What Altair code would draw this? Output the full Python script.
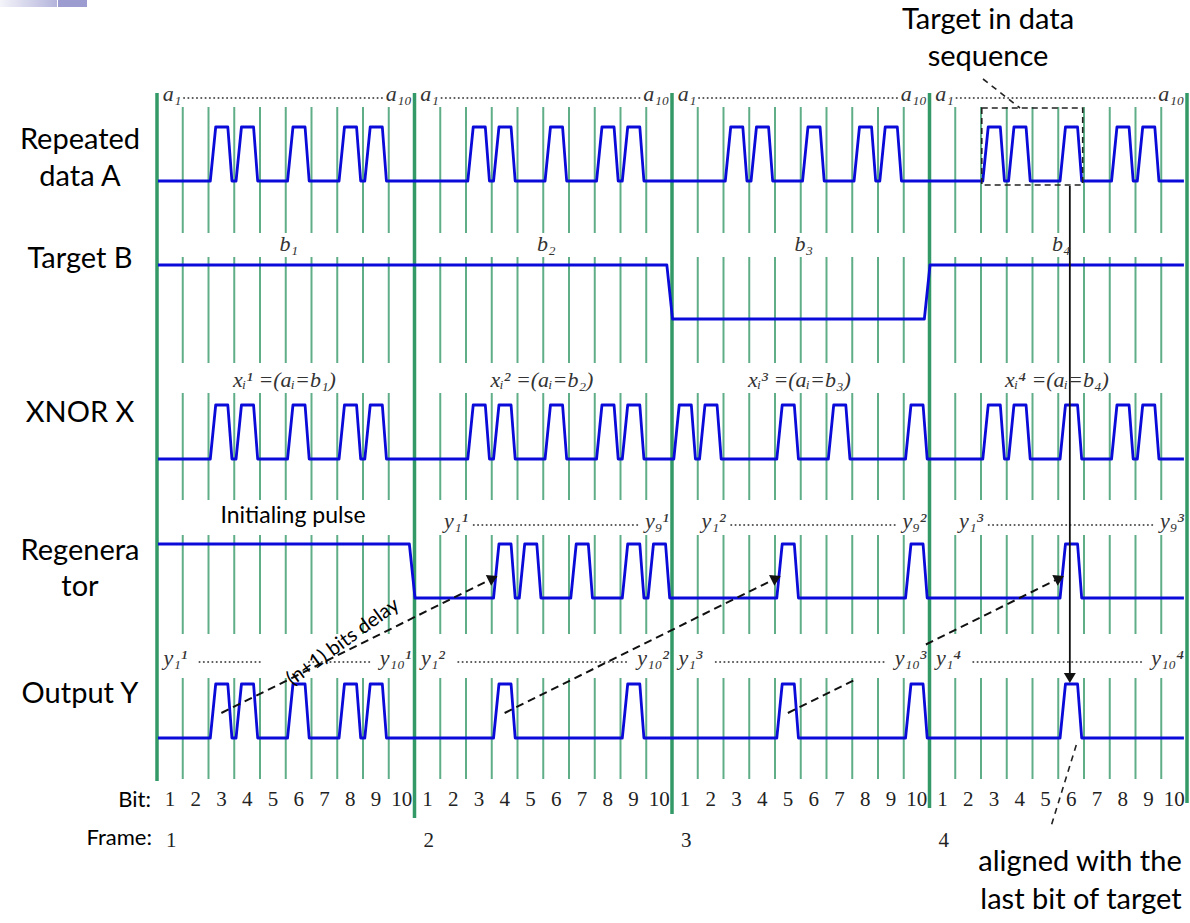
import math
import altair as alt
import pandas as pd

# ----------------------------- data -----------------------------
FRAMES = [1, 2, 3, 4]
BIT_LABELS = [1, 2, 3, 4, 5, 6, 7, 8, 9, 10]

DATA_A = [0, 0, 1, 1, 0, 1, 0, 1, 1, 0,
          0, 0, 1, 1, 0, 1, 0, 1, 1, 0,
          0, 0, 1, 1, 0, 1, 0, 1, 1, 0,
          0, 0, 1, 1, 0, 1, 0, 1, 1, 0]
TARGET_B = [1, 1, 0, 1]                      # one level per frame
XNOR_X = [0, 0, 1, 1, 0, 1, 0, 1, 1, 0,
          0, 0, 1, 1, 0, 1, 0, 1, 1, 0,
          1, 1, 0, 0, 1, 0, 1, 0, 0, 1,
          0, 0, 1, 1, 0, 1, 0, 1, 1, 0]
REGEN_INIT = [1, 0, 0, 0]                    # initialising pulse, per frame
REGEN = [0, 0, 0, 0, 0, 0, 0, 0, 0, 0,
         0, 0, 0, 1, 1, 0, 1, 0, 1, 1,
         0, 0, 0, 0, 1, 0, 0, 0, 0, 1,
         0, 0, 0, 0, 0, 1, 0, 0, 0, 0]
OUTPUT_Y = [0, 0, 1, 1, 0, 1, 0, 1, 1, 0,
            0, 0, 0, 1, 0, 0, 0, 0, 1, 0,
            0, 0, 0, 0, 1, 0, 0, 0, 0, 1,
            0, 0, 0, 0, 0, 1, 0, 0, 0, 0]

ROW_NAMES = [["Repeated", "data A"], ["Target B"], ["XNOR X"], ["Regenera", "tor"], ["Output Y"]]
A_LABELS = [("a₁", "a₁₀"), ("a₁", "a₁₀"), ("a₁", "a₁₀"), ("a₁", "a₁₀")]
B_LABELS = ["b₁", "b₂", "b₃", "b₄"]
X_LABELS = ["xᵢ¹ =(aᵢ=b₁)", "xᵢ² =(aᵢ=b₂)", "xᵢ³ =(aᵢ=b₃)", "xᵢ⁴ =(aᵢ=b₄)"]
R_LABELS = [None, ("y₁¹", "y₉¹"), ("y₁²", "y₉²"), ("y₁³", "y₉³")]
Y_LABELS = [("y₁¹", "y₁₀¹"), ("y₁²", "y₁₀²"), ("y₁³", "y₁₀³"), ("y₁⁴", "y₁₀⁴")]
DELAY_SOURCES = [2, 13, 24]      # output bits fed back (0-based, global)
DELAY = 11                       # (n+1) bits
TARGET_SPAN = [32, 36]           # frame 4, bits 3..6
ALIGNED_BIT = 35                 # frame 4, bit 6

# ----------------------------- layout -----------------------------
W, H = 1190, 923
X0, BW = 157.0, 25.75


def bx(px):
    return (px - X0) / BW


LOW = [181, 319, 459, 598, 738]
AMP = 54
EDGE = [0.07, 0.28, 0.75, 0.91]
SERIF = "Liberation Serif, DejaVu Serif, serif"
SANS = "Lato"
BLUE = "#0b0bd9"

xs = alt.Scale(domain=[bx(0), bx(W)], nice=False, zero=False)
ys = alt.Scale(domain=[0, H], reverse=True, nice=False, zero=False)
X = alt.X("x:Q", scale=xs, axis=None)
Y = alt.Y("y:Q", scale=ys, axis=None)


def wave(row, nrz, rz):
    lo = LOW[row]
    pts = [(0.04, nrz[0])]
    for f in range(1, len(nrz)):
        if nrz[f] != nrz[f - 1]:
            pts += [(10 * f - 0.2, nrz[f - 1]), (10 * f + 0.02, nrz[f])]
    pts.append((39.88, nrz[-1]))
    for k, b in enumerate(rz):
        if b:
            pts += [(k + EDGE[0], 0), (k + EDGE[1], 1), (k + EDGE[2], 1), (k + EDGE[3], 0)]
    pts.sort()
    return [dict(row=row, i=i, x=x, y=lo - AMP * v) for i, (x, v) in enumerate(pts)]


waves = []
for row, nrz, rz in [(0, [0] * 4, DATA_A), (1, TARGET_B, [0] * 40), (2, [0] * 4, XNOR_X),
                     (3, REGEN_INIT, REGEN), (4, [0] * 4, OUTPUT_Y)]:
    waves += wave(row, nrz, rz)
waves = pd.DataFrame(waves)

thin_rows = [(107, 233), (257, 363), (393, 500), (535, 634), (678, 779)]
thin = pd.DataFrame([dict(x=k, y=a, y2=b) for (a, b) in thin_rows for k in range(1, 40) if k % 10])
thick_bottom = [781, 818, 814, 808, 803]
thick = pd.DataFrame([dict(x=10 * f, y=93, y2=thick_bottom[f]) for f in range(5)])

# label texts
left_t, right_t, center_t, dots = [], [], [], []
for f in range(4):
    fs = 10 * f
    l, r = A_LABELS[f]
    left_t.append(dict(x=fs + 0.22, y=94, text=l))
    right_t.append(dict(x=fs + 9.9, y=94, text=r))
    dots.append(dict(x=fs + 1.05, x2=fs + 8.8, y=98))
    center_t.append(dict(x=fs + 5.12, y=244, text=B_LABELS[f]))
    center_t.append(dict(x=fs + 4.95, y=380, text=X_LABELS[f]))
    if R_LABELS[f]:
        l, r = R_LABELS[f]
        left_t.append(dict(x=fs + 1.15, y=521, text=l))
        right_t.append(dict(x=fs + 9.88, y=521, text=r))
        dots.append(dict(x=fs + 2.3, x2=fs + 8.65, y=525))
    l, r = Y_LABELS[f]
    left_t.append(dict(x=fs + 0.25, y=658, text=l))
    right_t.append(dict(x=fs + 9.88, y=658, text=r))
    if f == 0:
        dots.append(dict(x=fs + 1.65, x2=fs + 4.1, y=662))
        dots.append(dict(x=fs + 5.9, x2=fs + 8.25, y=662))
    else:
        dots.append(dict(x=fs + 1.7, x2=fs + 8.25, y=662))

bits_t = [dict(x=10 * f + k + 0.5, y=800, text=str(BIT_LABELS[k])) for f in range(4) for k in range(10)]
frames_t = [dict(x=10 * f + 0.55, y=841, text=str(FRAMES[f])) for f in range(4)]

row_t = []
row_ys = [[140, 177], [259], [413], [551, 587], [694]]
for names, yy in zip(ROW_NAMES, row_ys):
    for n, yv in zip(names, yy):
        row_t.append(dict(x=bx(80), y=yv, text=n))
note_t = [dict(x=bx(988), y=20, text="Target in data"), dict(x=bx(988), y=57, text="sequence"),
          dict(x=bx(1080), y=862, text="aligned with the"), dict(x=bx(1081), y=900, text="last bit of target")]

# arrows
arrows, heads = [], []
for s in DELAY_SOURCES:
    x1, y1, x2, y2 = s + 0.5, 713, s + DELAY + 0.22, 576
    if s == 24:
        for a, b in [(0.0, 0.24), (0.5, 1.0)]:
            arrows.append(dict(x=x1 + a * (x2 - x1), y=y1 + a * (y2 - y1),
                               x2=x1 + b * (x2 - x1), y2=y1 + b * (y2 - y1)))
    else:
        arrows.append(dict(x=x1, y=y1, x2=x2, y2=y2))
    ang = math.degrees(math.atan2((x2 - x1) * BW, -(y2 - y1))) % 360
    heads.append(dict(x=x2, y=y2, ang=ang))
heads.append(dict(x=ALIGNED_BIT + 0.45, y=683, ang=180))
arrows = pd.DataFrame(arrows)
heads = pd.DataFrame(heads)

leaders = pd.DataFrame([dict(x=bx(983), y=79, x2=bx(1020), y2=108),
                        dict(x=ALIGNED_BIT + 0.7, y=745, x2=ALIGNED_BIT - 0.3, y2=828)])
solid = pd.DataFrame([dict(x=ALIGNED_BIT + 0.45, y=186, x2=ALIGNED_BIT + 0.45, y2=680)])
box = pd.DataFrame([dict(x=TARGET_SPAN[0] + 0.03, x2=TARGET_SPAN[1] - 0.05, y=108, y2=185)])
bar1 = pd.DataFrame([dict(x=bx(0), x2=bx(57), y=0, y2=7)])
bar2 = pd.DataFrame([dict(x=bx(58), x2=bx(87), y=0, y2=7)])


def txt(rows, **mk):
    return alt.Chart(pd.DataFrame(rows)).mark_text(**mk).encode(x=X, y=Y, text="text:N")


layers = [
    alt.Chart(bar1).mark_rect(color=alt.Gradient(
        gradient="linear", x1=0, x2=1, y1=0, y2=0,
        stops=[alt.GradientStop(color="#f4f4fa", offset=0), alt.GradientStop(color="#b4b4dc", offset=1)]
    )).encode(x=X, x2="x2:Q", y=Y, y2="y2:Q"),
    alt.Chart(bar2).mark_rect(color="#9c9cd0").encode(x=X, x2="x2:Q", y=Y, y2="y2:Q"),
    alt.Chart(thin).mark_rule(color="#5fae88", strokeWidth=2).encode(x=X, y=Y, y2="y2:Q"),
    alt.Chart(thick).mark_rule(color="#339966", strokeWidth=3.5).encode(x=X, y=Y, y2="y2:Q"),
    alt.Chart(pd.DataFrame(dots)).mark_rule(color="#555555", strokeWidth=2, strokeDash=[0.1, 4.2],
                                            strokeCap="round").encode(x=X, x2="x2:Q", y=Y),
    alt.Chart(waves).mark_line(color=BLUE, strokeWidth=2.8, strokeJoin="round").encode(
        x=X, y=Y, detail="row:N", order="i:Q"),
    alt.Chart(box).mark_rect(fillOpacity=0, stroke="#222222", strokeWidth=1.6, strokeDash=[6, 4]).encode(
        x=X, x2="x2:Q", y=Y, y2="y2:Q"),
    alt.Chart(leaders).mark_rule(color="#222222", strokeWidth=1.6, strokeDash=[6, 5]).encode(
        x=X, y=Y, x2="x2:Q", y2="y2:Q"),
    alt.Chart(arrows).mark_rule(color="#111111", strokeWidth=2, strokeDash=[8, 5]).encode(
        x=X, y=Y, x2="x2:Q", y2="y2:Q"),
    alt.Chart(solid).mark_rule(color="#111111", strokeWidth=1.8).encode(x=X, y=Y, x2="x2:Q", y2="y2:Q"),
    alt.Chart(heads).mark_point(shape="M0,0L0.6,1L-0.6,1Z", filled=True, color="#111111", opacity=1,
                                size=400, strokeWidth=0).encode(
        x=X, y=Y, angle=alt.Angle("ang:Q", scale=None)),
    txt(left_t, font=SERIF, fontStyle="italic", fontSize=22, color="#333333", align="left", baseline="middle"),
    txt(right_t, font=SERIF, fontStyle="italic", fontSize=22, color="#333333", align="right", baseline="middle"),
    txt(center_t, font=SERIF, fontStyle="italic", fontSize=22, color="#333333", align="center", baseline="middle"),
    txt(bits_t, font=SERIF, fontSize=21, color="#222222", align="center", baseline="middle"),
    txt(frames_t, font=SERIF, fontSize=21, color="#222222", align="center", baseline="middle"),
    txt([dict(x=bx(151), y=800, text="Bit:"), dict(x=bx(152), y=838, text="Frame:")],
        font=SANS, fontSize=22, color="black", align="right", baseline="middle"),
    txt(row_t, font=SANS, fontSize=29, color="black", align="center", baseline="middle"),
    txt(note_t, font=SANS, fontSize=29, color="black", align="center", baseline="middle"),
    txt([dict(x=bx(293), y=516, text="Initialing pulse")],
        font=SANS, fontSize=23, color="black", align="center", baseline="middle"),
    txt([dict(x=bx(343), y=642, text="(n+1) bits delay")],
        font=SANS, fontSize=20, color="black", align="center", baseline="middle", angle=324),
]

chart = alt.layer(*layers).properties(
    width=W, height=H, padding=0, background="white",
    autosize=alt.AutoSizeParams(type="none"),
).configure_view(strokeWidth=0)

chart.save("out.html", embed_options={"renderer": "svg", "actions": False})
